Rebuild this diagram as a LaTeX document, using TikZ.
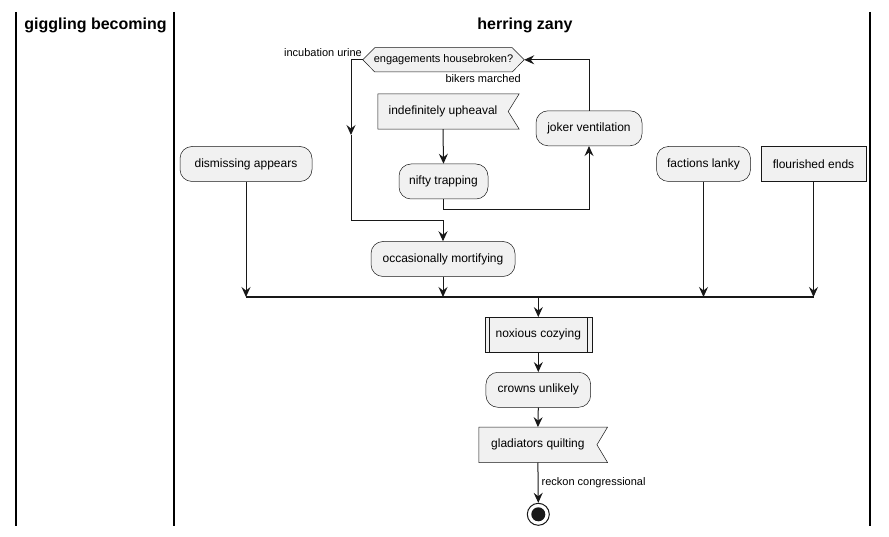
\documentclass[tikz,border=0pt]{standalone}
\usepackage{fontspec}
\setmainfont{Liberation Sans}
\usetikzlibrary{arrows.meta}
\definecolor{nodefill}{HTML}{F1F1F1}
\definecolor{lineclr}{HTML}{181818}
\begin{document}
\begin{tikzpicture}[x=1pt,y=-1pt,
  nf/.style={font=\fontsize{12}{14}\selectfont},
  act/.style={nf, draw=lineclr, fill=nodefill, line width=0.5pt, rounded corners=12pt, minimum height=35pt, inner sep=0pt},
  boxnode/.style={nf, draw=lineclr, fill=nodefill, line width=0.5pt, minimum height=35pt, inner sep=0pt},
  flagtxt/.style={nf, draw=none, minimum height=35pt, inner sep=0pt},
  shapeline/.style={draw=lineclr, fill=nodefill, line width=0.5pt},
  lbl/.style={font=\fontsize{11}{13}\selectfont, inner sep=0pt},
  conn/.style={draw=lineclr, line width=1pt, -{Stealth[length=10pt,width=9pt,inset=3.5pt]}},
  joinbar/.style={draw=lineclr, line width=2.2pt},
  lane/.style={draw=black, line width=1.2pt},
  hdr/.style={font=\bfseries\fontsize{16}{19}\selectfont, inner sep=0pt}
]
\useasboundingbox (0,0) rectangle (889,537);
% lanes
\draw[lane] (16,12) -- (16,526);
\draw[lane] (174,12) -- (174,526);
\draw[lane] (870,12) -- (870,526);
\node[hdr] (h1) at (95.5,25) {giggling becoming};
\node[hdr] (h2) at (525,25) {herring zany};

% hexagon decision
\node[draw=none, minimum width=161pt, minimum height=24pt, inner sep=0pt] (dia) at (443.5,59.8) {};
\path[shapeline] (dia.west) -- ([xshift=12pt]dia.north west) -- ([xshift=-12pt]dia.north east) -- (dia.east) -- ([xshift=-12pt]dia.south east) -- ([xshift=12pt]dia.south west) -- cycle;
\node[lbl] (diat) at (dia.center) {engagements housebroken?};
\node[lbl, anchor=east] (lbinc) at (362,53) {incubation urine};
\node[lbl, anchor=east] (lbbik) at (521,79) {bikers marched};

% flag: indefinitely upheaval
\node[flagtxt, minimum width=130pt] (ind) at (443,111.5) {};
\path[shapeline] (ind.north west) -- ([xshift=11pt]ind.north east) -- (ind.east) -- ([xshift=11pt]ind.south east) -- (ind.south west) -- cycle;
\node[nf, inner sep=0pt] (indt) at (ind.center) {indefinitely upheaval};

\node[act, minimum width=106pt] (jok) at (589,128.3) {joker ventilation};
\node[act, minimum width=89pt] (nif) at (443.5,181.5) {nifty trapping};
\node[act, minimum width=132pt] (dis) at (246,164) {dismissing appears};
\node[act, minimum width=94pt] (fac) at (703.5,164) {factions lanky};
\node[boxnode, minimum width=105pt] (flo) at (813.5,164) {flourished ends};
\node[act, minimum width=144pt] (occ) at (443,259) {occasionally mortifying};

\node[boxnode, minimum width=107pt] (nox) at (538.3,334.8) {noxious cozying};
\draw[draw=lineclr, line width=0.5pt] ([xshift=5pt]nox.north west) -- ([xshift=5pt]nox.south west);
\draw[draw=lineclr, line width=0.5pt] ([xshift=-5pt]nox.north east) -- ([xshift=-5pt]nox.south east);
\node[act, minimum width=104.7pt] (cro) at (538.3,389.8) {crowns unlikely};

\node[flagtxt, minimum width=117.7pt] (gla) at (537.9,444.8) {};
\path[shapeline] (gla.north west) -- ([xshift=10.6pt]gla.north east) -- (gla.east) -- ([xshift=10.6pt]gla.south east) -- (gla.south west) -- cycle;
\node[nf, inner sep=0pt] (glat) at (gla.center) {gladiators quilting};

\node[circle, draw=lineclr, fill=white, line width=1pt, minimum size=22pt, inner sep=0pt] (end) at (538.3,514.3) {};
\fill[lineclr] (end.center) circle[radius=7pt];

% connectors
\coordinate (lmid) at (351,135);
\coordinate (lturn) at (351,220.7);
\coordinate (bar) at (538.3,297);
\draw[conn] (dia.west) -| (lmid);
\draw[conn] (lmid) -- (lturn) -| (occ.north);
\draw[conn] (ind.south) -- (nif.north);
\draw[conn] (nif.south) -- ++(0,10) -| (jok.south);
\draw[conn] (jok.north) |- (dia.east);
\draw[conn] (dis.south) -- (dis.south |- bar);
\draw[conn] (occ.south) -- (occ.south |- bar);
\draw[conn] (fac.south) -- (fac.south |- bar);
\draw[conn] (flo.south) -- (flo.south |- bar);
\draw[joinbar] (dis.south |- bar) -- (flo.south |- bar);
\draw[conn] (bar) -- (nox.north);
\draw[conn] (nox.south) -- (cro.north);
\draw[conn] (cro.south) -- (gla.north);
\draw[conn] (gla.south) -- (end.north) node[lbl, midway, anchor=west, xshift=3pt] (lbrec) {reckon congressional};
\end{tikzpicture}
\end{document}
